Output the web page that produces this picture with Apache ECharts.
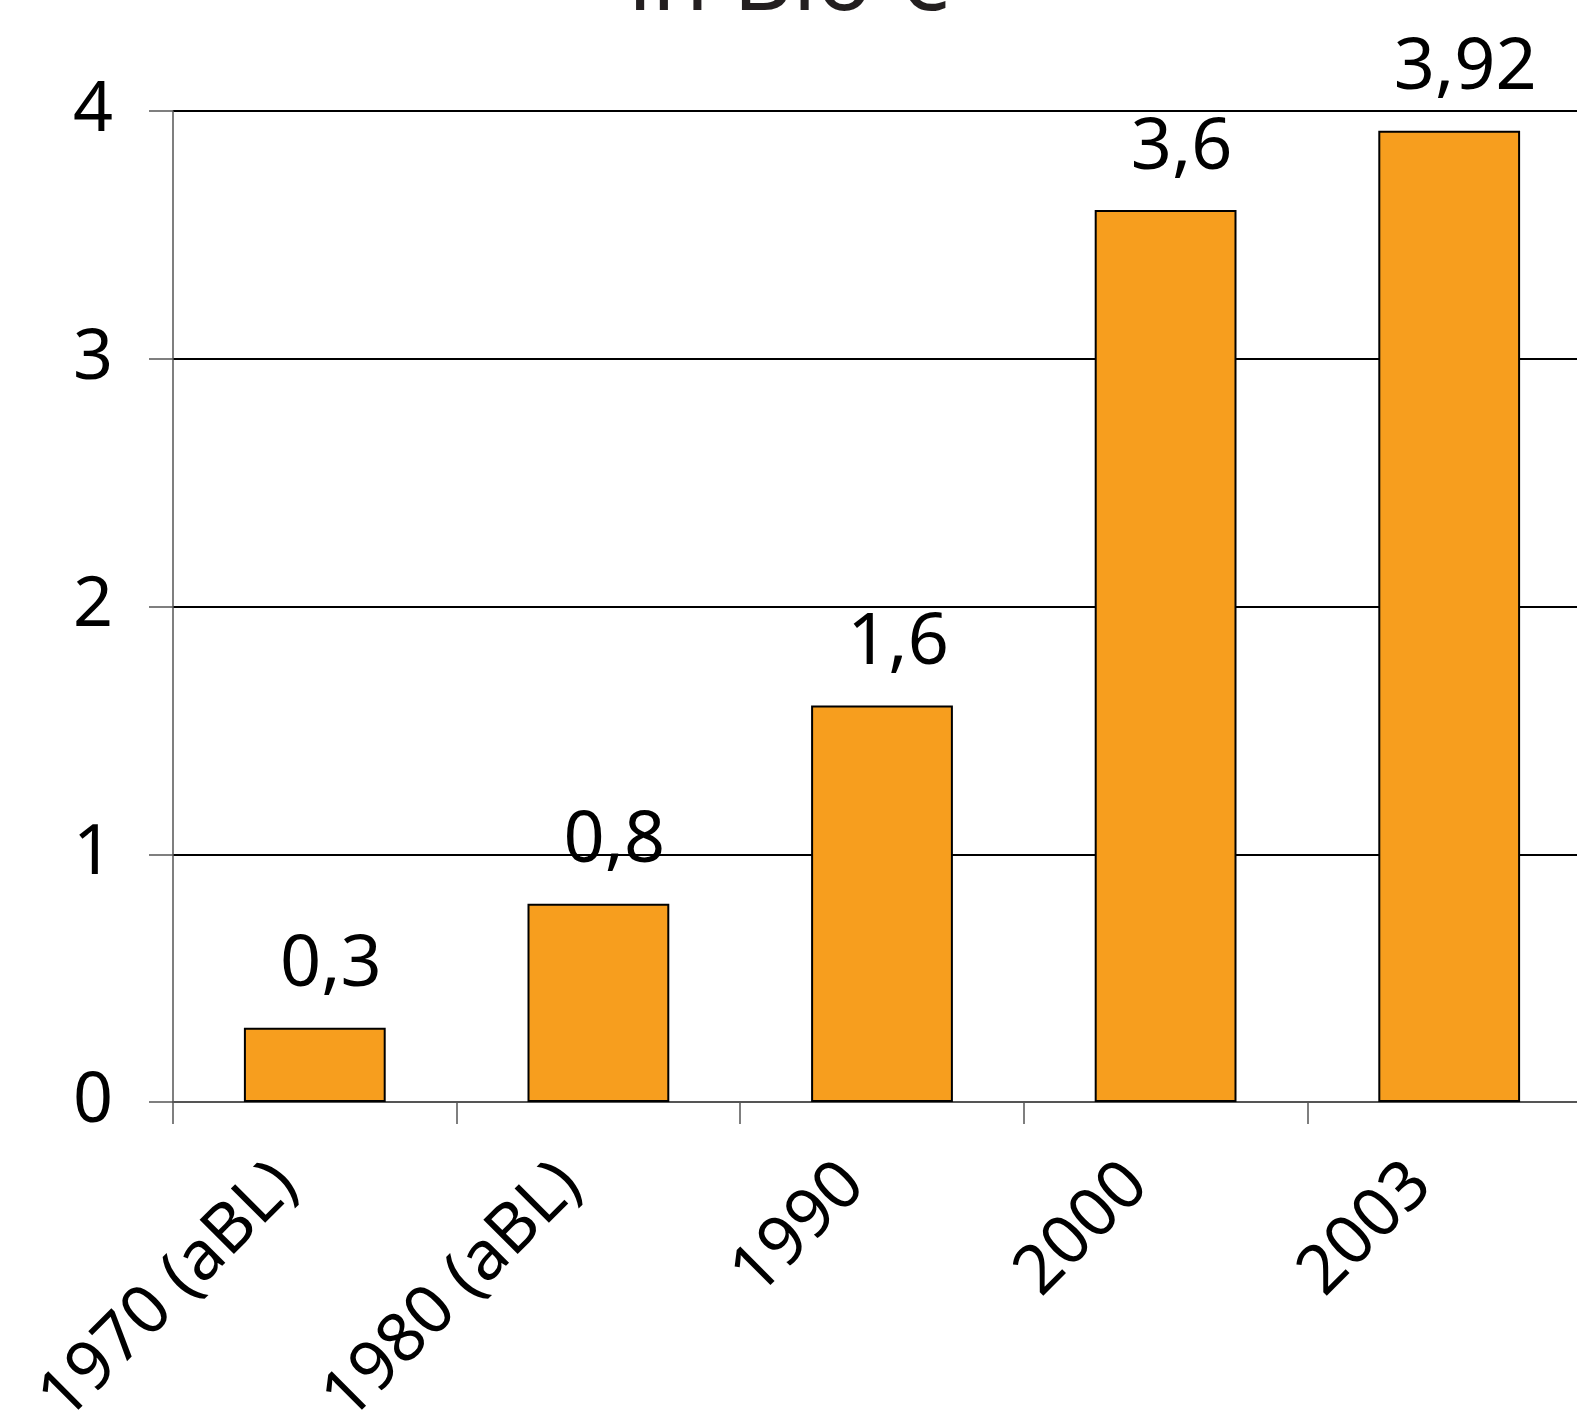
<!DOCTYPE html>
<html>
<head>
<meta charset="utf-8">
<script src="https://cdn.jsdelivr.net/npm/echarts@6/dist/echarts.min.js"></script>
<style>
  html, body { margin: 0; padding: 0; background: #fff; }
  #container { width: 1577px; height: 1411px; }
</style>
</head>
<body>
<div id="container"></div>
<script>
// data
let categories = ['1970 (aBL)', '1980 (aBL)', '1990', '2000', '2003'];
let values = [0.3, 0.8, 1.6, 3.6, 3.92];
let yTicks = [0, 1, 2, 3, 4];

let fontName = '"Noto Sans", sans-serif';

var graph = echarts.init(document.getElementById('container'));

let option = {
  animation: false,
  backgroundColor: '#fff',
  title: {
    text: 'in Bio €',
    left: 'center',
    top: -67,
    textStyle: { fontFamily: fontName, fontSize: 92, fontWeight: 'normal', color: '#231f20' },
  },
  grid: {
    left: 173,
    right: -14,
    top: 111,
    bottom: 309,
    outerBoundsMode: 'none',
    containLabel: false,
  },
  xAxis: {
    type: 'category',
    data: categories,
    boundaryGap: true,
    axisLine: { lineStyle: { color: '#555', width: 2 } },
    axisTick: { show: true, length: 22, lineStyle: { color: '#555', width: 1.5 } },
    axisLabel: {
      rotate: 45,
      margin: 44,
      padding: [0, 40, 0, 0],
      fontFamily: fontName,
      fontSize: 68,
      color: '#000',
      interval: 0,
    },
  },
  yAxis: {
    type: 'value',
    min: yTicks[0],
    max: yTicks[yTicks.length - 1],
    interval: 1,
    axisLine: { show: true, lineStyle: { color: '#555', width: 1.5 } },
    axisTick: { show: true, length: 24, lineStyle: { color: '#555', width: 1.5 } },
    axisLabel: {
      margin: 60,
      fontFamily: fontName,
      fontSize: 70,
      color: '#000',
    },
    splitLine: { show: true, lineStyle: { color: '#000', width: 2 } },
  },
  series: [
    {
      type: 'bar',
      data: values,
      barWidth: '50%',
      itemStyle: { color: '#f79e1e', borderColor: '#000', borderWidth: 2 },
      label: {
        show: true,
        position: 'top',
        distance: 26,
        offset: [16, 0],
        fontFamily: fontName,
        fontSize: 72,
        color: '#000',
        formatter: (p) => String(p.value).replace('.', ','),
      },
    },
  ],
};

graph.setOption(option);
</script>
</body>
</html>
